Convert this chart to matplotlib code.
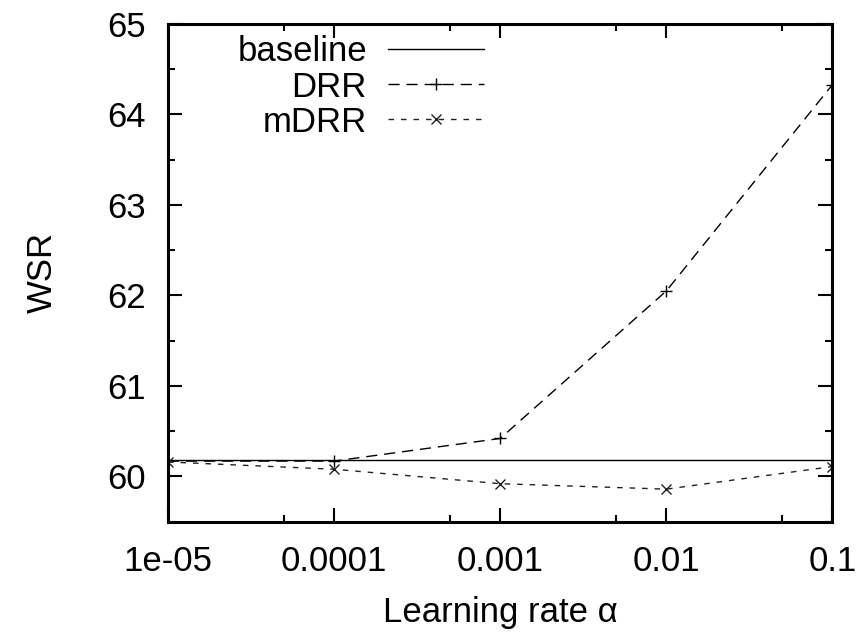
import numpy as np
import matplotlib.pyplot as plt

plt.rcParams['font.family'] = ['Liberation Sans', 'DejaVu Sans']

# learning rates and WSR values
learning_rates = [1e-05, 1e-04, 1e-03, 1e-02, 1e-01]
rate_labels = ['1e-05', '0.0001', '0.001', '0.01', '0.1']
baseline_wsr = [60.18, 60.18, 60.18, 60.18, 60.18]
drr_wsr = [60.17, 60.17, 60.42, 62.05, 64.33]
mdrr_wsr = [60.16, 60.08, 59.92, 59.86, 60.11]


def main():
    fig = plt.figure(figsize=(8.64, 6.33), dpi=100)
    ax = fig.add_axes([0.1944, 0.1758, 0.7691, 0.7863])

    ax.plot(learning_rates, baseline_wsr, color='black', lw=1.0, label='baseline')
    ax.plot(learning_rates, drr_wsr, color='black', lw=1.0, dashes=(8, 5),
            marker='+', ms=9, mew=1.0, label='DRR')
    ax.plot(learning_rates, mdrr_wsr, color='#222222', lw=1.0, dashes=(4, 5),
            marker='x', ms=7, mew=1.0, label='mDRR')

    ax.set_xscale('log')
    ax.set_xlim(1e-05, 0.1)
    ax.set_ylim(59.5, 65)
    ax.set_xticks(learning_rates)
    ax.set_xticklabels(rate_labels)
    ax.set_xticks([5e-05, 5e-04, 5e-03, 5e-02], minor=True)
    ax.set_yticks(range(60, 66))
    ax.set_yticks(np.arange(59.5, 65.01, 0.5), minor=True)

    ax.tick_params(which='both', direction='in', top=True, right=True, labelsize=25)
    ax.tick_params(which='major', length=10, width=1.5)
    ax.tick_params(which='minor', length=5, width=1.5)
    ax.tick_params(axis='y', which='major', pad=16)
    ax.tick_params(axis='x', which='major', pad=17)
    for spine in ax.spines.values():
        spine.set_linewidth(2.2)

    ax.set_xlabel('Learning rate α', fontsize=25, labelpad=13)
    ax.set_ylabel('WSR', fontsize=25, labelpad=35)

    ax.legend(loc='upper right', bbox_to_anchor=(0.4755, 0.977), frameon=False,
              markerfirst=False, fontsize=25, handlelength=2.75, handletextpad=0.62,
              labelspacing=0.06, borderpad=0, borderaxespad=0)

    plt.savefig('out.png', dpi=100)


if __name__ == '__main__':
    main()
